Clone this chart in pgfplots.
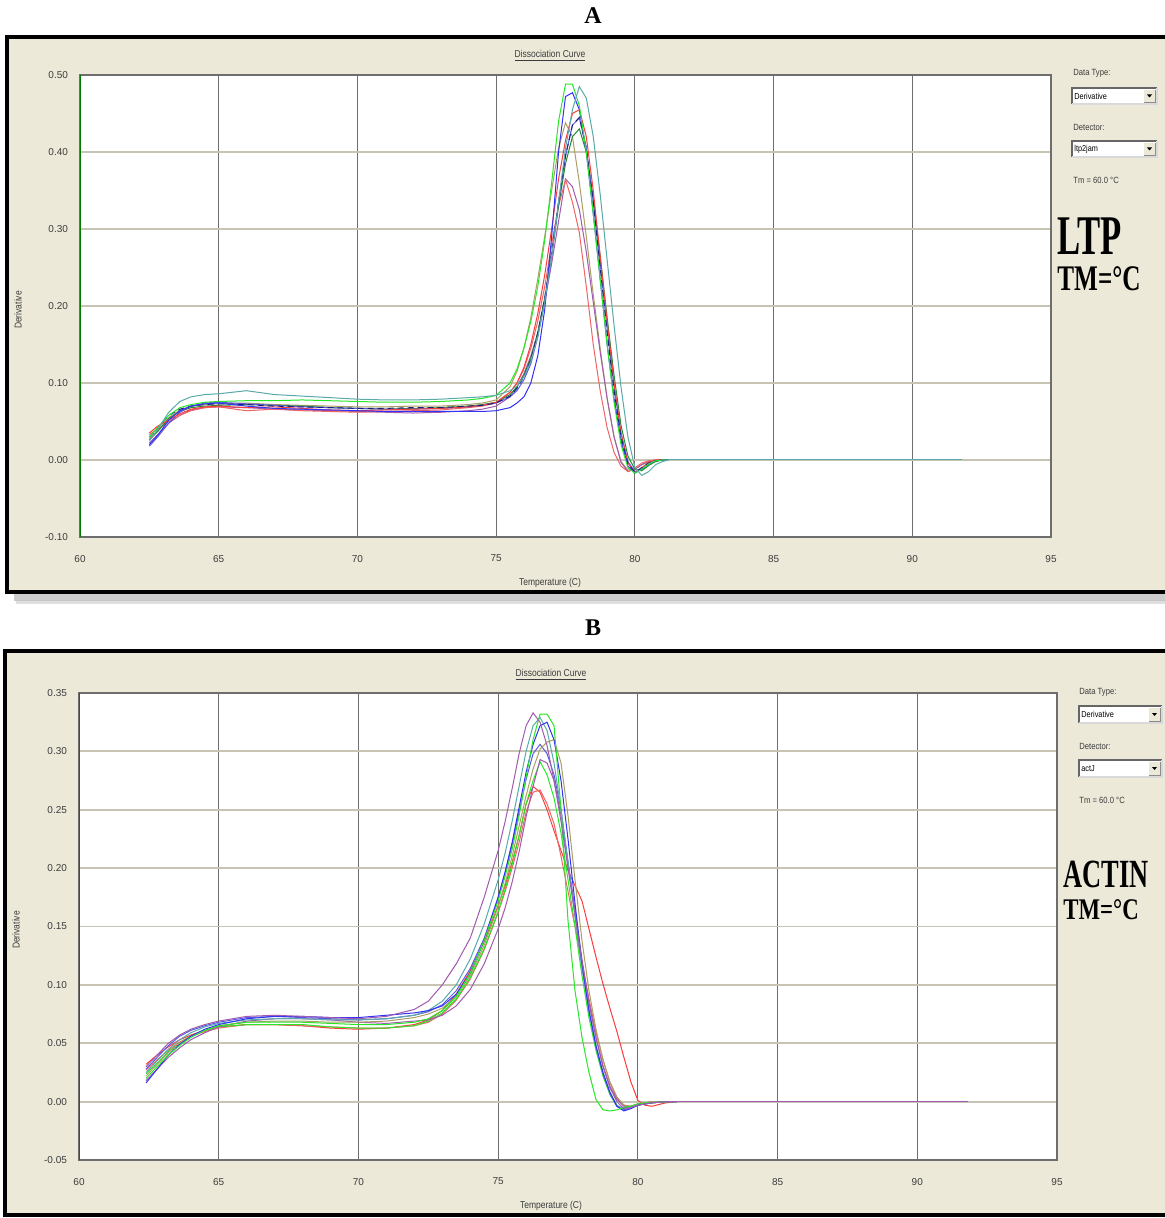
\documentclass[border=0pt]{standalone}
\usepackage{pgfplots}
\pgfplotsset{compat=1.18}
\usepackage{pgfplotstable}
\usepackage{fontspec}
\setmainfont{Liberation Serif}
\setsansfont{Liberation Sans}
\usepackage{graphicx}

\definecolor{panelbg}{RGB}{236,233,216}
\definecolor{hgrid}{RGB}{200,196,180}
\definecolor{vgrid}{RGB}{110,110,110}
\definecolor{ticktext}{RGB}{60,60,60}
\definecolor{axgreen}{RGB}{0,125,0}
\definecolor{cGreen}{RGB}{40,230,40}
\definecolor{cTeal}{RGB}{90,170,170}
\definecolor{cBlue}{RGB}{50,50,245}
\definecolor{cRed}{RGB}{250,60,60}
\definecolor{cOlive}{RGB}{170,160,100}
\definecolor{cPurple}{RGB}{160,90,175}
\definecolor{cNavy}{RGB}{30,30,120}
\definecolor{cDGreen}{RGB}{30,140,50}
\definecolor{cPink}{RGB}{240,100,100}
\definecolor{cBlue2}{RGB}{90,90,230}

\pgfplotstableread{
T a1 a2 a3 a4 a5 a6 a7 a8 a9 a10
62.5 .030 .025 .020 .035 .028 .022 .033 .030 .026 .018
62.8 .042 .040 .032 .044 .038 .033 .040 .041 .037 .030
63.2 .058 .062 .052 .052 .055 .048 .050 .058 .054 .048
63.6 .068 .076 .064 .060 .065 .058 .058 .066 .063 .062
64 .072 .082 .070 .066 .070 .065 .064 .070 .068 .070
64.5 .075 .085 .073 .069 .072 .068 .068 .072 .070 .074
65 .076 .086 .074 .070 .073 .069 .069 .073 .071 .075
66 .077 .090 .070 .068 .074 .068 .064 .072 .072 .073
67 .077 .085 .067 .069 .072 .066 .066 .070 .071 .071
68 .078 .083 .066 .067 .071 .065 .064 .069 .070 .069
69 .077 .081 .065 .065 .070 .064 .063 .068 .068 .068
70 .076 .079 .064 .064 .069 .063 .062 .067 .067 .067
71 .075 .078 .063 .065 .069 .062 .063 .067 .066 .066
72 .075 .078 .063 .066 .070 .061 .064 .068 .067 .066
73 .076 .079 .063 .067 .070 .062 .065 .068 .068 .067
74 .078 .081 .063 .069 .072 .064 .068 .070 .070 .069
74.5 .080 .082 .063 .071 .074 .066 .070 .071 .072 .071
75 .084 .084 .064 .075 .078 .070 .074 .074 .075 .074
75.5 .100 .090 .068 .088 .095 .082 .088 .083 .085 .082
75.75 .118 .096 .074 .100 .115 .095 .100 .093 .095 .090
76 .145 .108 .082 .120 .145 .112 .118 .108 .110 .104
76.25 .180 .128 .100 .150 .185 .135 .145 .130 .132 .125
76.5 .225 .160 .135 .190 .235 .165 .180 .165 .165 .160
76.75 .285 .205 .195 .240 .290 .205 .225 .210 .210 .205
77 .360 .265 .290 .300 .350 .255 .280 .270 .265 .265
77.25 .440 .335 .400 .365 .405 .310 .330 .335 .330 .335
77.5 .488 .405 .472 .415 .438 .365 .364 .395 .385 .395
77.75 .488 .455 .477 .450 .420 .355 .335 .435 .420 .435
78 .460 .485 .455 .455 .360 .325 .295 .445 .430 .444
78.25 .400 .470 .400 .420 .290 .270 .225 .405 .400 .405
78.5 .320 .420 .320 .350 .215 .205 .150 .335 .340 .335
78.75 .235 .345 .235 .265 .145 .140 .090 .250 .265 .255
79 .150 .260 .150 .180 .080 .080 .042 .165 .185 .170
79.25 .075 .175 .080 .100 .030 .030 .010 .090 .110 .095
79.5 .020 .095 .025 .035 -.002 -.003 -.008 .030 .045 .035
79.75 -.010 .030 -.008 -.004 -.013 -.015 -.015 -.005 .005 -.002
80 -.017 -.010 -.017 -.016 -.012 -.012 -.010 -.016 -.012 -.015
80.25 -.012 -.020 -.012 -.010 -.006 -.006 -.004 -.010 -.014 -.012
80.5 -.005 -.015 -.005 -.003 -.002 -.002 -.001 -.004 -.007 -.005
80.75 -.001 -.006 -.001 0 0 0 0 -.001 -.002 -.001
81 0 -.002 0 0 0 0 0 0 0 0
81.2 0 0 0 0 0 0 0 0 0 0
}\tabA

\pgfplotstableread{
T b1 b2 b3 b4 b5 b6 b7 b8 b9 b10
62.4 .030 .020 .016 .025 .022 .028 .018 .024 .032 .027
62.8 .040 .030 .028 .035 .032 .038 .028 .033 .040 .036
63.2 .050 .040 .040 .045 .042 .048 .038 .043 .047 .044
63.6 .057 .048 .049 .053 .050 .056 .046 .050 .053 .051
64 .062 .055 .056 .059 .056 .061 .053 .056 .057 .056
64.5 .066 .061 .062 .064 .061 .065 .059 .061 .061 .060
65 .069 .065 .066 .067 .065 .068 .064 .064 .064 .063
66 .073 .068 .071 .070 .068 .072 .069 .066 .066 .066
67 .074 .068 .073 .071 .069 .073 .071 .066 .066 .066
68 .073 .068 .073 .071 .069 .072 .071 .066 .065 .065
69 .072 .067 .072 .070 .068 .071 .070 .064 .063 .064
70 .071 .066 .072 .070 .068 .070 .068 .063 .062 .063
71 .073 .066 .074 .071 .069 .071 .067 .063 .063 .063
72 .079 .068 .076 .074 .072 .074 .069 .065 .066 .065
72.5 .086 .071 .078 .078 .075 .077 .070 .069 .070 .068
73 .100 .078 .082 .086 .080 .083 .074 .076 .078 .075
73.5 .118 .090 .092 .100 .090 .095 .082 .088 .092 .087
74 .140 .110 .110 .122 .108 .114 .096 .106 .112 .105
74.5 .175 .138 .138 .152 .134 .140 .118 .131 .137 .130
75 .215 .172 .175 .190 .167 .175 .148 .163 .168 .162
75.25 .240 .193 .197 .213 .187 .196 .166 .182 .185 .180
75.5 .268 .216 .222 .240 .210 .220 .188 .203 .205 .200
75.75 .298 .245 .252 .270 .236 .248 .214 .228 .228 .222
76 .322 .278 .282 .300 .262 .276 .244 .255 .255 .248
76.25 .333 .310 .306 .322 .285 .298 .270 .275 .270 .265
76.5 .325 .332 .322 .329 .302 .306 .293 .291 .265 .267
76.75 .305 .332 .325 .318 .308 .298 .290 .280 .250 .255
77 .275 .322 .310 .290 .310 .280 .275 .260 .232 .238
77.25 .240 .250 .275 .250 .290 .250 .245 .230 .215 .210
77.5 .200 .155 .225 .205 .245 .205 .205 .190 .198 .180
77.75 .160 .095 .170 .160 .190 .160 .165 .150 .185 .150
78 .120 .055 .118 .115 .138 .115 .122 .108 .172 .118
78.25 .085 .025 .078 .078 .095 .078 .085 .072 .148 .088
78.5 .055 .002 .048 .048 .062 .047 .055 .044 .124 .060
78.75 .030 -.007 .025 .025 .036 .024 .031 .022 .101 .036
79 .012 -.008 .008 .008 .017 .007 .013 .006 .080 .016
79.25 .000 -.007 -.004 -.003 .004 -.004 .002 -.004 .060 .003
79.5 -.006 -.005 -.008 -.006 -.003 -.007 -.004 -.006 .038 -.003
79.75 -.005 -.004 -.006 -.005 -.004 -.005 -.004 -.004 .017 -.004
80 -.003 -.002 -.003 -.003 -.002 -.003 -.002 -.003 .001 -.003
80.25 -.002 -.001 -.002 -.002 -.001 -.002 -.001 -.002 -.003 -.002
80.5 -.001 -.001 -.001 -.001 0 -.001 0 -.001 -.004 -.001
81 0 0 0 0 0 0 0 0 -.001 0
81.4 0 0 0 0 0 0 0 0 0 0
}\tabB

\pgfplotsset{
  qpcr/.style={
    scale only axis,
    axis background/.style={fill=white},
    xmin=60, xmax=95, xtick={60,65,...,95},
    xmajorgrids, ymajorgrids,
    x grid style={vgrid, line width=0.6pt},
    y grid style={hgrid, line width=0.9pt},
    axis line style={vgrid, line width=0.6pt},
    major tick length=0pt,
    tick label style={font=\fontsize{5}{6}\selectfont\sffamily, text=ticktext},
    /pgf/number format/assume math mode=true,
    yticklabel style={/pgf/number format/fixed, /pgf/number format/fixed zerofill, /pgf/number format/precision=2, xshift=-2.5pt},
    xticklabel style={yshift=-5.5pt},
    every axis plot/.append style={line width=0.5pt},
    clip=true,
  }
}

\newcommand\dropdown[5]{%
  \fill[white] (#1,#2) rectangle (#3,#4);
  \draw[black!60, line width=0.6pt] (#1,#4) -- (#1,#2) -- (#3,#2);
  \draw[black!15, line width=0.6pt] (#1,#4) -- (#3,#4) -- (#3,#2);
  \fill[panelbg] ({#3-13},{#2+2}) rectangle ({#3-2},{#4-2});
  \draw[black!45, line width=0.3pt] ({#3-13},{#4-2}) -- ({#3-2},{#4-2}) -- ({#3-2},{#2+2});
  \fill[black] ({#3-10},{(#2+#4)/2-1.5}) -- ({#3-5},{(#2+#4)/2-1.5}) -- ({#3-7.5},{(#2+#4)/2+1.5}) -- cycle;
  \node[anchor=west, inner sep=0pt, font=\fontsize{4.3}{5}\selectfont\sffamily] at ({#1+2},{(#2+#4)/2}) {\scalebox{0.85}[1]{#5}};
}

\begin{document}
\begin{tikzpicture}
\useasboundingbox (0pt,0pt) rectangle (582pt,-609pt);
\begin{scope}[x=0.5pt, y=-0.5pt]
  % panel A frame with shadow
  \fill[black!40, opacity=0.5] (14,593) rectangle (1170,601);
  \fill[black!25, opacity=0.5] (16,600) rectangle (1170,604);
  \draw[line width=2pt, black, fill=panelbg] (7,37) rectangle (1172,592);
  % panel B frame
  \draw[line width=2pt, black, fill=panelbg] (5,651) rectangle (1172,1215);
  % titles
  \node[font=\bfseries\fontsize{12}{14}\selectfont] at (593,16) {A};
  \node[font=\bfseries\fontsize{12}{14}\selectfont] at (593,628) {B};
\end{scope}

% ---------- Panel A ----------
\begin{axis}[qpcr, at={(40pt,-268.5pt)}, anchor=south west,
  width=485.5pt, height=231pt,
  ymin=-0.1, ymax=0.5, ytick={-0.1,0,0.1,0.2,0.3,0.4,0.5}]
  \addplot[cOlive] table[x=T,y=a5]{\tabA};
  \addplot[cPurple] table[x=T,y=a6]{\tabA};
  \addplot[cPink] table[x=T,y=a7]{\tabA};
  \addplot[cDGreen] table[x=T,y=a9]{\tabA};
  \addplot[cBlue2] table[x=T,y=a10]{\tabA};
  \addplot[cRed] table[x=T,y=a4]{\tabA};
  \addplot[cNavy, densely dashed] table[x=T,y=a8]{\tabA};
  \addplot[cBlue] table[x=T,y=a3]{\tabA};
  \addplot[cGreen] table[x=T,y=a1]{\tabA};
  \addplot[cTeal] table[x=T,y=a2]{\tabA};
  \addplot[cTeal] coordinates {(81.2,0) (91.8,0)};
  \draw[axgreen, line width=1.4pt] (axis cs:60,-0.1) -- (axis cs:60,0.5);
\end{axis}

% ---------- Panel B ----------
\begin{axis}[qpcr, at={(39.5pt,-580pt)}, anchor=south west,
  width=489pt, height=233.5pt,
  ymin=-0.05, ymax=0.35, ytick={-0.05,0,0.05,0.1,0.15,0.2,0.25,0.3,0.35}]
  \addplot[cRed] table[x=T,y=b9]{\tabB};
  \addplot[cPink] table[x=T,y=b10]{\tabB};
  \addplot[cGreen] table[x=T,y=b8]{\tabB};
  \addplot[cPurple] table[x=T,y=b7]{\tabB};
  \addplot[cBlue2] table[x=T,y=b6]{\tabB};
  \addplot[cOlive] table[x=T,y=b5]{\tabB};
  \addplot[cTeal] table[x=T,y=b4]{\tabB};
  \addplot[cBlue] table[x=T,y=b3]{\tabB};
  \addplot[cGreen] table[x=T,y=b2]{\tabB};
  \addplot[cPurple] table[x=T,y=b1]{\tabB};
  \addplot[cPurple] coordinates {(81.4,0) (91.8,0)};
  \draw[axgreen, line width=1.4pt] (axis cs:60,-0.05) -- (axis cs:60,0.35);
\end{axis}

\begin{scope}[x=0.5pt, y=-0.5pt]
  \tikzset{small/.style={font=\fontsize{5}{6}\selectfont\sffamily, text=ticktext, inner sep=0pt}}
  % Panel A texts
  \node[small] at (550,56) {\scalebox{0.85}[1]{\underline{Dissociation Curve}}};
  \node[small, rotate=90] at (18,310) {\scalebox{0.85}[1]{Derivative}};
  \node[small] at (550,583) {\scalebox{0.85}[1]{Temperature (C)}};
  \node[small, anchor=west, font=\fontsize{4.5}{5}\selectfont\sffamily] at (1073,73) {\scalebox{0.85}[1]{Data Type:}};
  \dropdown{1072}{88}{1157}{104}{Derivative}
  \node[small, anchor=west, font=\fontsize{4.5}{5}\selectfont\sffamily] at (1073,127) {\scalebox{0.85}[1]{Detector:}};
  \dropdown{1072}{141}{1157}{157}{ltp2jam}
  \node[small, anchor=west, font=\fontsize{4.5}{5}\selectfont\sffamily] at (1073,180) {\scalebox{0.85}[1]{Tm = 60.0 °C}};
  \node[anchor=west, inner sep=0pt, font=\bfseries\fontsize{28}{30}\selectfont] at (1057,236) {\scalebox{0.62}[1]{LTP}};
  \node[anchor=west, inner sep=0pt, font=\bfseries\fontsize{18}{20}\selectfont] at (1057,279) {\scalebox{0.7}[1]{TM=°C}};
  % Panel B texts
  \node[small] at (551,675) {\scalebox{0.85}[1]{\underline{Dissociation Curve}}};
  \node[small, rotate=90] at (16,930) {\scalebox{0.85}[1]{Derivative}};
  \node[small] at (551,1206) {\scalebox{0.85}[1]{Temperature (C)}};
  \node[small, anchor=west, font=\fontsize{4.5}{5}\selectfont\sffamily] at (1079,692) {\scalebox{0.85}[1]{Data Type:}};
  \dropdown{1079}{706}{1162}{723}{Derivative}
  \node[small, anchor=west, font=\fontsize{4.5}{5}\selectfont\sffamily] at (1079,746) {\scalebox{0.85}[1]{Detector:}};
  \dropdown{1079}{760}{1162}{777}{actJ}
  \node[small, anchor=west, font=\fontsize{4.5}{5}\selectfont\sffamily] at (1079,800) {\scalebox{0.85}[1]{Tm = 60.0 °C}};
  \node[anchor=west, inner sep=0pt, font=\bfseries\fontsize{20}{22}\selectfont] at (1063,874) {\scalebox{0.66}[1]{ACTIN}};
  \node[anchor=west, inner sep=0pt, font=\bfseries\fontsize{15}{17}\selectfont] at (1063,910) {\scalebox{0.76}[1]{TM=°C}};
\end{scope}
\end{tikzpicture}
\end{document}
